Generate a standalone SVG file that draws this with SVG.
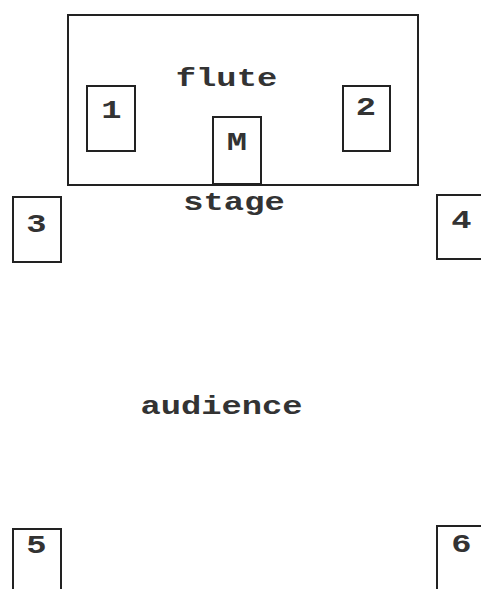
<svg xmlns="http://www.w3.org/2000/svg" width="481" height="589" viewBox="0 0 481 589">
<style>
rect{fill:#fff;stroke:#222;stroke-width:2}
text{font-family:"Liberation Mono","Courier New",monospace;font-weight:bold;font-size:26px;fill:#333;text-anchor:middle}
</style>
<rect width="481" height="589" style="stroke:none"/>
<g id="stage">
<rect x="68" y="15" width="350" height="170"/>
<text transform="translate(226.5,86) scale(1.3,1)">flute</text>
<text transform="translate(234,210) scale(1.3,1)">stage</text>
</g>
<g id="n1"><rect x="87" y="86" width="48" height="65"/><text transform="translate(111.5,118) scale(1.3,1)">1</text></g>
<g id="n2"><rect x="343" y="86" width="47" height="65"/><text transform="translate(366,115) scale(1.3,1)">2</text></g>
<g id="nM"><rect x="213" y="117" width="48" height="67"/><text transform="translate(237,150) scale(1.3,1)">M</text></g>
<g id="n3"><rect x="13" y="197" width="48" height="65"/><text transform="translate(36.5,232) scale(1.3,1)">3</text></g>
<g id="n4"><rect x="437" y="195" width="48" height="64"/><text transform="translate(461.5,228) scale(1.3,1)">4</text></g>
<g id="n5"><rect x="13" y="529" width="48" height="65"/><text transform="translate(36.5,553) scale(1.3,1)">5</text></g>
<g id="n6"><rect x="437" y="526" width="48" height="65"/><text transform="translate(461.5,552) scale(1.3,1)">6</text></g>
<text transform="translate(221.5,414) scale(1.3,1)">audience</text>
<g id="connectors"/>
</svg>
